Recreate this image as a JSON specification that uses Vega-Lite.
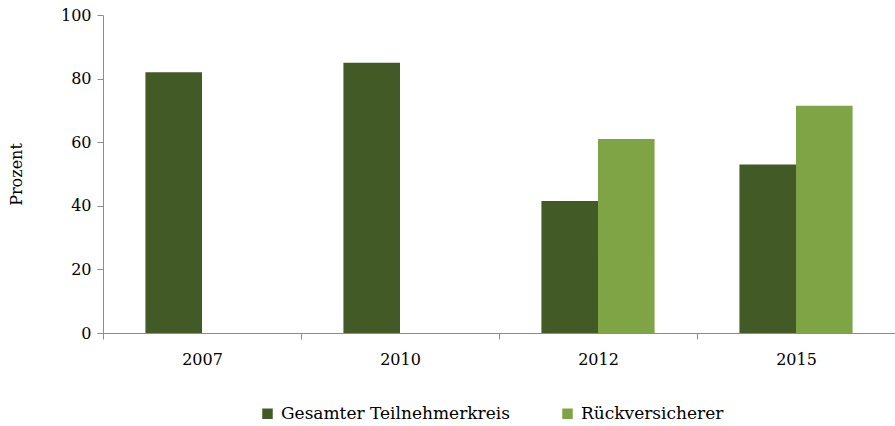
{
  "$schema": "https://vega.github.io/schema/vega-lite/v6.json",
  "width": 792,
  "height": 318,
  "autosize": {"type": "none"},
  "padding": {"left": 103, "top": 15, "right": 0, "bottom": 93},
  "background": "white",
  "config": {
    "view": {"stroke": null},
    "font": "DejaVu Serif",
    "axis": {"labelFont": "DejaVu Serif", "titleFont": "DejaVu Serif", "labelFontSize": 16, "titleFontSize": 16, "labelColor": "#000", "titleColor": "#000", "domainColor": "#8c8c8c", "tickColor": "#8c8c8c", "grid": false},
    "legend": {"labelFont": "DejaVu Serif", "labelFontSize": 17, "labelColor": "#000", "labelLimit": 400}
  },
  "data": {
    "values": [
      {"Jahr": "2007", "Gruppe": "Gesamter Teilnehmerkreis", "Prozent": 82},
      {"Jahr": "2010", "Gruppe": "Gesamter Teilnehmerkreis", "Prozent": 85},
      {"Jahr": "2012", "Gruppe": "Gesamter Teilnehmerkreis", "Prozent": 41.5},
      {"Jahr": "2012", "Gruppe": "Rückversicherer", "Prozent": 61},
      {"Jahr": "2015", "Gruppe": "Gesamter Teilnehmerkreis", "Prozent": 53},
      {"Jahr": "2015", "Gruppe": "Rückversicherer", "Prozent": 71.5}
    ]
  },
  "mark": {"type": "bar"},
  "encoding": {
    "x": {
      "field": "Jahr", "type": "nominal", "title": null,
      "scale": {"paddingInner": 0, "paddingOuter": 0},
      "axis": {"labelAngle": 0, "tickBand": "extent", "tickSize": 6, "labelPadding": 12}
    },
    "xOffset": {
      "field": "Gruppe", "type": "nominal",
      "scale": {"domain": ["Gesamter Teilnehmerkreis", "Rückversicherer"], "paddingInner": 0, "paddingOuter": 0.75}
    },
    "y": {
      "field": "Prozent", "type": "quantitative", "title": "Prozent",
      "scale": {"domain": [0, 100], "nice": false},
      "axis": {"values": [0, 20, 40, 60, 80, 100], "tickSize": 6, "labelPadding": 6, "titleFontWeight": "normal", "titlePadding": 36}
    },
    "color": {
      "field": "Gruppe", "type": "nominal",
      "scale": {"domain": ["Gesamter Teilnehmerkreis", "Rückversicherer"], "range": ["#425A26", "#7EA446"]},
      "legend": {"title": null, "orient": "none", "direction": "horizontal", "legendX": 156, "legendY": 390, "symbolType": "square", "symbolSize": 110, "symbolStrokeWidth": 0, "labelOffset": 5, "columnPadding": 49}
    }
  }
}
